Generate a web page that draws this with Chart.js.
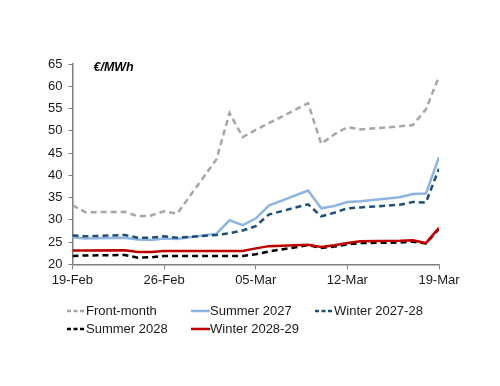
<!DOCTYPE html>
<html>
<head>
<meta charset="utf-8">
<script src="https://cdn.jsdelivr.net/npm/chart.js@4.4.1/dist/chart.umd.min.js"></script>
<style>
  html, body { margin: 0; padding: 0; background: #fff; }
  #wrap { position: relative; width: 500px; height: 386px; }
  #legend { position: absolute; left: 0; top: 302px; width: 500px; font: 13px "Liberation Sans", Arial, sans-serif; color: #1a1a1a; }
  .item { position: absolute; height: 18px; line-height: 18px; white-space: nowrap; }
  .item svg { position: absolute; left: 0; top: 7px; }
  .item span { position: absolute; left: 19px; top: 0; }
</style>
</head>
<body>
<div id="wrap">
  <canvas id="chart" width="500" height="386"></canvas>
  <div id="legend"></div>
</div>
<script>
// --- DATA ---
const dates = ['2026-02-19', '2026-02-20', '2026-02-23', '2026-02-24', '2026-02-25', '2026-02-26', '2026-02-27',
               '2026-03-02', '2026-03-03', '2026-03-04', '2026-03-05', '2026-03-06', '2026-03-09', '2026-03-10',
               '2026-03-11', '2026-03-12', '2026-03-13', '2026-03-16', '2026-03-17', '2026-03-18', '2026-03-19'];
const xTickLabels = ['19-Feb', '26-Feb', '05-Mar', '12-Mar', '19-Mar'];
const yTickLabels = [20, 25, 30, 35, 40, 45, 50, 55, 60, 65];

const frontMonth = [33.3, 31.7, 31.8, 30.8, 31.0, 31.9, 31.4, 43.6, 54.0, 48.6, 50.2, 51.7, 56.2, 47.1, 49.2, 50.8, 50.3, 51.0, 51.3, 54.8, 62.2];
const summer2027 = [26.1, 25.8, 26.0, 25.6, 25.5, 25.8, 25.7, 26.9, 29.9, 28.8, 30.3, 33.2, 36.6, 32.6, 33.1, 34.0, 34.2, 35.1, 35.8, 35.9, 44.1];
const winter2728 = [26.5, 26.3, 26.6, 26.0, 26.0, 26.3, 26.0, 26.6, 27.0, 27.6, 28.6, 31.2, 33.5, 30.8, 31.6, 32.6, 32.8, 33.4, 34.0, 33.9, 41.5];
const summer2028 = [21.9, 22.0, 22.1, 21.5, 21.6, 21.9, 21.9, 21.9, 21.9, 21.9, 22.3, 22.9, 24.3, 23.7, 24.0, 24.5, 24.8, 24.9, 25.1, 24.7, 28.0];
const winter2829 = [23.1, 23.1, 23.2, 22.8, 22.8, 23.0, 23.0, 23.0, 23.0, 23.0, 23.6, 24.1, 24.4, 23.9, 24.3, 24.8, 25.2, 25.3, 25.4, 24.8, 28.2];

// days since first date (the axis is a date axis, weekends leave gaps)
const t0 = Date.parse(dates[0]);
const days = dates.map(d => Math.round((Date.parse(d) - t0) / 86400000));
const pts = vals => vals.map((v, i) => ({ x: days[i], y: v }));

const series = [
  { label: 'Front-month',    data: frontMonth, color: '#a6a6a6', dash: [6, 4] },
  { label: 'Summer 2027',    data: summer2027, color: '#8db4e2', dash: [] },
  { label: 'Winter 2027-28', data: winter2728, color: '#1f4e79', dash: [6, 4] },
  { label: 'Summer 2028',    data: summer2028, color: '#000000', dash: [6, 4] },
  { label: 'Winter 2028-29', data: winter2829, color: '#c00000', dash: [] }
];

const axisColor = '#7f7f7f';
const font = { family: '"Liberation Sans", Arial, sans-serif', size: 13 };

// unit label inside the plot area
const unitLabel = {
  id: 'unitLabel',
  afterDraw(chart) {
    const { ctx, chartArea } = chart;
    ctx.save();
    ctx.font = 'italic bold 12.5px "Liberation Sans", Arial, sans-serif';
    ctx.fillStyle = '#000';
    ctx.textBaseline = 'middle';
    ctx.fillText('€/MWh', chartArea.left + 21, chartArea.top + 4);
    ctx.restore();
  }
};

new Chart(document.getElementById('chart'), {
  type: 'line',
  data: {
    datasets: series.map((s, i) => ({
      label: s.label,
      data: pts(s.data),
      borderColor: s.color,
      backgroundColor: s.color,
      borderDash: s.dash,
      borderWidth: 2.5,
      pointRadius: 0,
      tension: 0,
      order: series.length - i
    }))
  },
  options: {
    responsive: false,
    animation: false,
    layout: { padding: { left: 42, right: 61, top: 64, bottom: 95 } },
    plugins: { legend: { display: false }, tooltip: { enabled: false } },
    scales: {
      x: {
        type: 'linear',
        min: 0, max: 28,
        border: { display: true, color: axisColor, width: 1.5 },
        grid: { display: true, drawOnChartArea: false, drawTicks: true, tickLength: 5, color: axisColor },
        ticks: {
          stepSize: 7, padding: 3, color: '#1a1a1a', font: font, maxRotation: 0,
          callback: v => xTickLabels[v / 7] ?? ''
        }
      },
      y: {
        min: yTickLabels[0], max: yTickLabels[yTickLabels.length - 1],
        border: { display: true, color: axisColor, width: 1.5 },
        grid: { display: true, drawOnChartArea: false, drawTicks: true, tickLength: 4, color: axisColor },
        ticks: { stepSize: 5, padding: 6, color: '#1a1a1a', font: font }
      }
    }
  },
  plugins: [unitLabel]
});

// --- LEGEND (3 columns, 2 rows) ---
const legend = document.getElementById('legend');
series.forEach((s, i) => {
  const col = i % 3, row = Math.floor(i / 3);
  const el = document.createElement('div');
  el.className = 'item';
  el.style.left = (67 + col * 124) + 'px';
  el.style.top = (row * 18) + 'px';
  const dash = s.dash.length ? 'stroke-dasharray="4 2.5"' : '';
  el.innerHTML = '<svg width="19" height="4"><line x1="0" y1="2" x2="19" y2="2" stroke="' + s.color +
    '" stroke-width="2.5" ' + dash + '/></svg><span>' + s.label + '</span>';
  legend.appendChild(el);
});
</script>
</body>
</html>
